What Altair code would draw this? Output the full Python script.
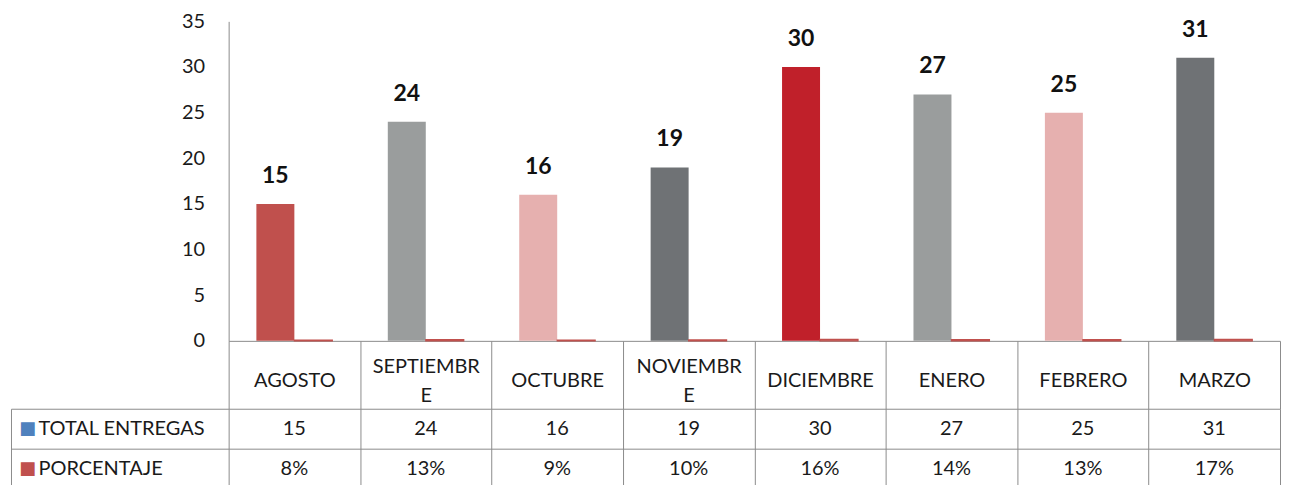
import altair as alt
import pandas as pd

# ---- data ----
months = ["AGOSTO", "SEPTIEMBRE", "OCTUBRE", "NOVIEMBRE", "DICIEMBRE", "ENERO", "FEBRERO", "MARZO"]
total_entregas = [15, 24, 16, 19, 30, 27, 25, 31]
porcentaje = [0.08, 0.13, 0.09, 0.10, 0.16, 0.14, 0.13, 0.17]
porcentaje_labels = ["8%", "13%", "9%", "10%", "16%", "14%", "13%", "17%"]
series = ["TOTAL ENTREGAS", "PORCENTAJE"]
y_ticks = [0, 5, 10, 15, 20, 25, 30, 35]

# ---- styles ----
month_colors = ["#C0504D", "#9A9D9D", "#E6B0AF", "#6F7275", "#C0202A", "#9A9D9D", "#E6B0AF", "#6F7275"]
series_key_colors = ["#4F81BD", "#C0504D"]
pct_color = "#C0504D"
line_gray = "#8C8C8C"
font = "Lato"
text_color = "#1a1a1a"

bars_df = pd.DataFrame(
    [{"month": m, "series": series[0], "value": v} for m, v in zip(months, total_entregas)]
    + [{"month": m, "series": series[1], "value": v} for m, v in zip(months, porcentaje)]
)
table_df = pd.DataFrame(
    [{"month": m, "row": series[0], "label": str(v)} for m, v in zip(months, total_entregas)]
    + [{"month": m, "row": series[1], "label": s} for m, s in zip(months, porcentaje_labels)]
)

PLOT_W = 1053

x_scale = alt.Scale(domain=months, paddingInner=0, paddingOuter=0)
xoff = alt.XOffset("series:N", scale=alt.Scale(domain=series, paddingInner=0, paddingOuter=0.73))

two_line = "(datum.value == 'SEPTIEMBRE' || datum.value == 'NOVIEMBRE')"
wrap_expr = ("(datum.label == 'SEPTIEMBRE' || datum.label == 'NOVIEMBRE') ? "
             "[substring(datum.label, 0, length(datum.label) - 1), substring(datum.label, length(datum.label) - 1)] "
             ": datum.label")

x_top = alt.X(
    "month:N", sort=months, scale=x_scale,
    axis=alt.Axis(
        title=None, tickBand="extent", tickSize=68, tickColor=line_gray, domainColor=line_gray,
        labelAngle=0, labelPadding=alt.expr(f"{two_line} ? -42 : -28"),
        labelBaseline="middle", labelLineHeight=29,
        labelFont=font, labelFontSize=20, labelColor=text_color, labelLimit=0,
        labelExpr=wrap_expr,
    ),
)
y_top = alt.Y(
    "value:Q", scale=alt.Scale(domain=[0, 35], nice=False),
    axis=alt.Axis(title=None, values=y_ticks, grid=False, ticks=False, domainColor=line_gray,
                  labelPadding=24, labelFont=font, labelFontSize=20, labelColor=text_color),
)

base = alt.Chart(bars_df)
main_bars = base.transform_filter(alt.datum.series == series[0]).mark_bar().encode(
    x=x_top, xOffset=xoff, y=y_top,
    color=alt.Color("month:N", scale=alt.Scale(domain=months, range=month_colors), legend=None),
)
pct_bars = base.transform_filter(alt.datum.series == series[1]).mark_bar(
    color=pct_color, stroke=pct_color, strokeWidth=1.2
).encode(x=x_top, xOffset=xoff, y=y_top)
labels = base.transform_filter(alt.datum.series == series[0]).mark_text(
    dy=-28, baseline="middle", font=font, fontSize=23, fontWeight="bold", color="#111"
).encode(x=x_top, xOffset=xoff, y=y_top, text="value:Q")

top = alt.layer(main_bars, pct_bars, labels).properties(width=PLOT_W, height=320)

# ---- data table ----
x_tab = alt.X(
    "month:N", sort=months, scale=x_scale,
    axis=alt.Axis(orient="top", title=None, labels=False, ticks=False, domain=False,
                  grid=True, gridColor=line_gray, tickBand="extent"),
)
y_scale_tab = alt.Scale(domain=series, paddingInner=0, paddingOuter=0)
y_tab = alt.Y(
    "row:N", sort=series, scale=y_scale_tab,
    axis=alt.Axis(title=None, tickBand="extent", tickSize=218, tickColor=line_gray, domain=False,
                  grid=True, gridColor=line_gray, labelAlign="left", labelPadding=-27,
                  labelFont=font, labelFontSize=20, labelColor=text_color, labelLimit=0),
)
y_keys = alt.Y(
    "row:N", sort=series, scale=y_scale_tab,
    axis=alt.Axis(title=None, orient="left", offset=218, domain=True, domainColor=line_gray,
                  ticks=False, grid=False, labelAlign="left", labelPadding=-8,
                  labelExpr="'■'", labelFont="DejaVu Sans", labelFontSize=18,
                  labelColor=alt.expr(f"datum.value == '{series[0]}' ? '{series_key_colors[0]}' : '{series_key_colors[1]}'")),
)

tab_base = alt.Chart(table_df)
tab_text = tab_base.mark_text(font=font, fontSize=20, color=text_color, baseline="middle").encode(
    x=x_tab, y=y_tab, text="label:N"
)
tab_keys = tab_base.mark_text(text="", opacity=0).encode(x=x_tab, y=y_keys)

table = alt.layer(tab_text, tab_keys).resolve_axis(y="independent").properties(width=PLOT_W, height=80)

chart = alt.vconcat(top, table, spacing=68, bounds="flush").properties(
    padding={"left": 2, "top": 3, "right": 0, "bottom": 0}
).configure_view(stroke=None)

chart.save("out.html", embed_options={"renderer": "svg", "actions": False})
